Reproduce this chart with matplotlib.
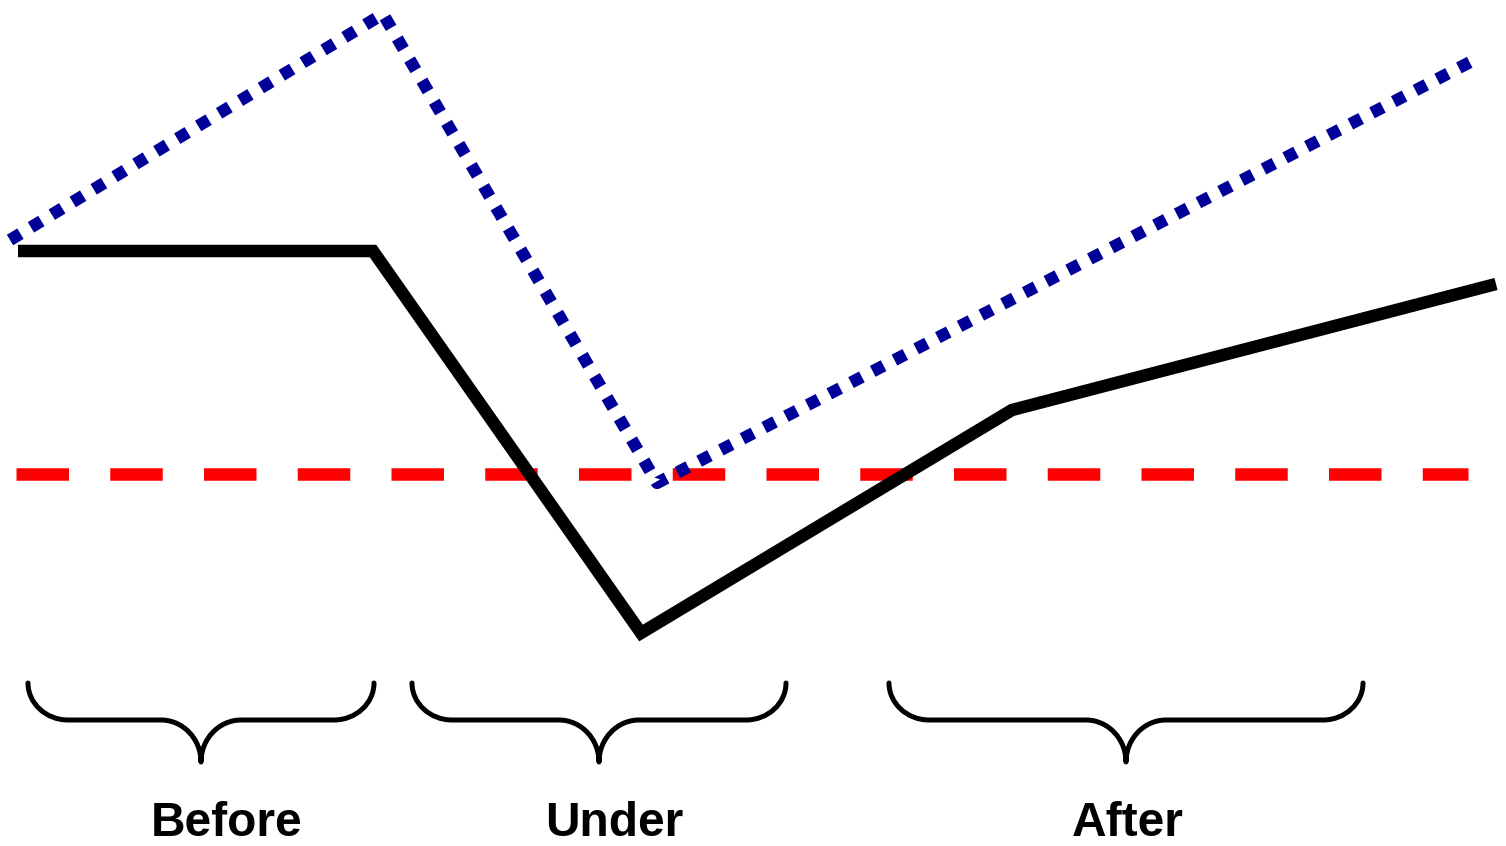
import matplotlib.pyplot as plt
from matplotlib.path import Path
from matplotlib.patches import PathPatch

# canvas units follow the picture (x right, y down)
solid_x = [18, 373, 641, 1012, 1496]
solid_y = [251, 251, 633, 410, 284]

dotted_x = [10, 383, 657, 1478]
dotted_y = [240, 14, 483, 58]

dashed_x = [16, 1468]
dashed_y = [474, 474]

labels = ['Before', 'Under', 'After']
brace_left = [28, 412, 889]
brace_right = [374, 786, 1363]
label_x = [227, 614, 1128]


def brace(ax, x0, x1, top=683, mid=720, tip=762, r=40):
    xc = (x0 + x1) / 2
    k = 0.55
    verts = [
        (x0, top),
        (x0, top + (mid - top) * k), (x0 + r * (1 - k), mid), (x0 + r, mid),
        (xc - r, mid),
        (xc - r * (1 - k), mid), (xc, mid + (tip - mid) * (1 - k)), (xc, tip),
        (xc, mid + (tip - mid) * (1 - k)), (xc + r * (1 - k), mid), (xc + r, mid),
        (x1 - r, mid),
        (x1 - r * (1 - k), mid), (x1, top + (mid - top) * k), (x1, top),
    ]
    codes = [Path.MOVETO,
             Path.CURVE4, Path.CURVE4, Path.CURVE4,
             Path.LINETO,
             Path.CURVE4, Path.CURVE4, Path.CURVE4,
             Path.CURVE4, Path.CURVE4, Path.CURVE4,
             Path.LINETO,
             Path.CURVE4, Path.CURVE4, Path.CURVE4]
    ax.add_patch(PathPatch(Path(verts, codes), fill=False, lw=3.6,
                           edgecolor='black', capstyle='round', joinstyle='round'))


fig = plt.figure(figsize=(15.06, 8.46), dpi=100)
ax = fig.add_axes([0, 0, 1, 1])
ax.set_xlim(0, 1506)
ax.set_ylim(846, 0)
ax.axis('off')

ax.plot(dashed_x, dashed_y, color='#ff0000', lw=9, linestyle=(0, (4.2, 3.3)),
        dash_capstyle='butt')
ax.plot(solid_x, solid_y, color='black', lw=9, solid_capstyle='butt',
        solid_joinstyle='miter')
ax.plot(dotted_x, dotted_y, color='#000099', lw=8.8, linestyle=(0, (1, 1.0)),
        dash_capstyle='butt')

for lab, x0, x1, lx in zip(labels, brace_left, brace_right, label_x):
    brace(ax, x0, x1)
    ax.text(lx, 824, lab, ha='center', va='center', fontsize=34.5,
            fontweight='bold', family='Liberation Sans')

fig.savefig('out.png', dpi=100)
